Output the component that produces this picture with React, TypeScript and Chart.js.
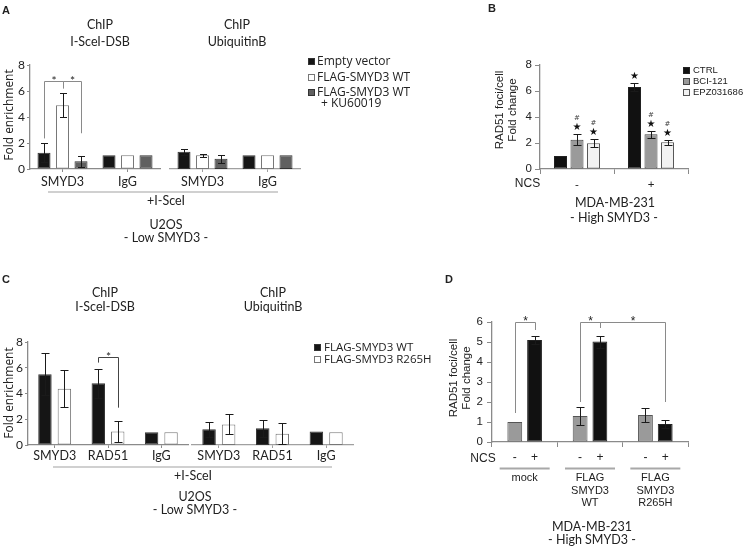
import React, { useEffect, useRef } from "react";
import { Chart, registerables } from "chart.js";
Chart.register(...registerables);

const W = 747;
const H = 548;
const AV = "Lato, 'Open Sans', sans-serif";
const OS = "'Open Sans', Lato, sans-serif";
const AR = "'Liberation Sans', Arial, sans-serif";

// ---------------- Panel A ----------------
const aCategories = ["SMYD3", "IgG"];
const aSeries = ["Empty vector", "FLAG-SMYD3 WT", "FLAG-SMYD3 WT"];
const aSeriesNote = "+ KU60019";
const aDsbEmpty = [1.25, 1.05];
const aDsbEmptyErr = [0.72, 0];
const aDsbWT = [4.9, 1.05];
const aDsbWTErr = [0.93, 0];
const aDsbKU = [0.6, 1.05];
const aDsbKUErr = [0.42, 0];
const aUbqEmpty = [1.32, 1.05];
const aUbqEmptyErr = [0.25, 0];
const aUbqWT = [1.05, 1.05];
const aUbqWTErr = [0.12, 0];
const aUbqKU = [0.78, 1.05];
const aUbqKUErr = [0.3, 0];
const aYTicks = [0, 2, 4, 6, 8];
// brackets: [fromDataset, fromIndex, toDataset, toIndex, top, fromBottom, toBottom]
const aBrackets = [
  [0, 0, 1, 0, 6.75, 2.35, 6.2],
  [1, 0, 2, 0, 6.75, 6.2, 2.75],
];

// ---------------- Panel B ----------------
const bCategories = ["-", "+"];
const bSeries = ["CTRL", "BCI-121", "EPZ031686"];
const bCtrl = [1.0, 6.3];
const bCtrlErr = [0, 0.33];
const bBci = [2.25, 2.68];
const bBciErr = [0.44, 0.28];
const bEpz = [1.98, 2.06];
const bEpzErr = [0.32, 0.2];
const bStars = [[false, true], [true, true], [true, true]];
const bHashes = [[false, false], [true, true], [true, true]];
const bYTicks = [0, 2, 4, 6, 8];

// ---------------- Panel C ----------------
const cCategories = ["SMYD3", "RAD51", "IgG"];
const cSeries = ["FLAG-SMYD3 WT", "FLAG-SMYD3 R265H"];
const cDsbWT = [5.5, 4.8, 1.0];
const cDsbWTErr = [1.63, 1.12, 0];
const cDsbR = [4.36, 1.05, 1.0];
const cDsbRErr = [1.43, 0.82, 0];
const cUbqWT = [1.22, 1.3, 1.05];
const cUbqWTErr = [0.6, 0.65, 0];
const cUbqR = [1.6, 0.88, 1.0];
const cUbqRErr = [0.78, 0.82, 0];
const cBrackets = [[0, 1, 1, 1, 6.85, 6.4, 2.9]];

// ---------------- Panel D ----------------
const dCategories = [["mock", "", ""], ["FLAG", "SMYD3", "WT"], ["FLAG", "SMYD3", "R265H"]];
const dNcs = ["-", "+"];
const dMinus = [1.0, 1.3, 1.35];
const dMinusErr = [0, 0.44, 0.33];
const dPlus = [5.1, 5.02, 0.9];
const dPlusErr = [0.2, 0.3, 0.2];
const dBrackets = [
  [0, 0, 1, 0, 6.0, 1.45, 5.6],
  [0, 1, 1, 1, 6.0, 2.0, 5.7],
  [1, 1, 1, 2, 6.0, 5.7, 2.0],
];

// ---------------- plugins ----------------
const errorBars = (cap: number) => ({
  id: "errorBars",
  afterDatasetsDraw(chart: any) {
    const ctx = chart.ctx;
    const ys = chart.scales.y;
    chart.data.datasets.forEach((ds: any, di: number) => {
      const meta = chart.getDatasetMeta(di);
      (ds.errors || []).forEach((e: number, i: number) => {
        if (!e) return;
        const el = meta.data[i];
        const v = ds.data[i];
        const x = Math.round(el.x) + 0.5;
        const y1 = Math.round(ys.getPixelForValue(v + e)) + 0.5;
        const y0 = Math.round(ys.getPixelForValue(v - e)) + 0.5;
        ctx.save();
        ctx.strokeStyle = "#1a1a1a";
        ctx.lineWidth = 1;
        ctx.beginPath();
        ctx.moveTo(x, y0);
        ctx.lineTo(x, y1);
        ctx.moveTo(x - cap / 2, y1);
        ctx.lineTo(x + cap / 2, y1);
        ctx.moveTo(x - cap / 2, y0);
        ctx.lineTo(x + cap / 2, y0);
        ctx.stroke();
        ctx.restore();
      });
    });
  },
});

const bracketPlugin = (list: number[][], color: string, font: string, dy: number) => ({
  id: "brackets",
  afterDatasetsDraw(chart: any) {
    const ctx = chart.ctx;
    const ys = chart.scales.y;
    list.forEach((b) => {
      const x1 = Math.round(chart.getDatasetMeta(b[0]).data[b[1]].x) + 0.5;
      const x2 = Math.round(chart.getDatasetMeta(b[2]).data[b[3]].x) + 0.5;
      const yt = Math.round(ys.getPixelForValue(b[4])) + 0.5;
      const y1 = ys.getPixelForValue(b[5]);
      const y2 = ys.getPixelForValue(b[6]);
      ctx.save();
      ctx.strokeStyle = color;
      ctx.lineWidth = 1;
      ctx.beginPath();
      ctx.moveTo(x1, y1);
      ctx.lineTo(x1, yt);
      ctx.lineTo(x2, yt);
      ctx.lineTo(x2, y2);
      ctx.stroke();
      ctx.fillStyle = "#222";
      ctx.font = font;
      ctx.textAlign = "center";
      ctx.textBaseline = "alphabetic";
      ctx.fillText("*", (x1 + x2) / 2, yt + dy);
      ctx.restore();
    });
  },
});

const markPlugin = (stars: boolean[][], hashes: boolean[][]) => ({
  id: "marks",
  afterDatasetsDraw(chart: any) {
    const ctx = chart.ctx;
    const ys = chart.scales.y;
    chart.data.datasets.forEach((ds: any, di: number) => {
      const meta = chart.getDatasetMeta(di);
      ds.data.forEach((v: number, i: number) => {
        const top = ys.getPixelForValue(v + (ds.errors[i] || 0));
        const x = meta.data[i].x;
        ctx.save();
        ctx.fillStyle = "#111";
        ctx.textAlign = "center";
        ctx.textBaseline = "middle";
        if (stars[di][i]) {
          ctx.font = "10px 'DejaVu Sans'";
          ctx.fillText("★", x, top - 6.5);
        }
        if (hashes[di][i]) {
          ctx.font = "7px 'DejaVu Sans'";
          ctx.fillStyle = "#444";
          ctx.fillText("#", x, top - 15.5);
        }
        ctx.restore();
      });
    });
  },
});

const ncsRow = (signs: string[], dyText: number, dyLine: number, lineW: number) => ({
  id: "ncsRow",
  afterDraw(chart: any) {
    const ctx = chart.ctx;
    const base = chart.scales.y.getPixelForValue(0);
    ctx.save();
    ctx.fillStyle = "#222";
    ctx.font = `12px ${AR}`;
    ctx.textAlign = "center";
    ctx.textBaseline = "middle";
    chart.data.datasets.forEach((ds: any, di: number) => {
      chart.getDatasetMeta(di).data.forEach((el: any) => {
        ctx.fillText(signs[di], el.x, base + dyText);
      });
    });
    ctx.strokeStyle = "#a8a8a8";
    ctx.lineWidth = 2;
    chart.data.labels.forEach((_l: any, i: number) => {
      const cx = chart.scales.x.getPixelForValue(i);
      ctx.beginPath();
      ctx.moveTo(cx - lineW / 2, base + dyLine);
      ctx.lineTo(cx + lineW / 2, base + dyLine);
      ctx.stroke();
    });
    ctx.restore();
  },
});

type Opt = {
  area: { l: number; t: number; r: number; b: number };
  labels: any[];
  datasets: any[];
  yMax: number;
  yStep: number;
  showY: boolean;
  xH: number;
  axisColor: string;
  xFont: any;
  yFont: any;
  yTickLen: number;
  yPad: number;
  xTickLen: number;
  xPad: number;
  xGridOffset: boolean;
  catPct: number;
  barPct: number;
  plugins: any[];
};

function makeBar(canvas: HTMLCanvasElement, o: Opt) {
  return new Chart(canvas, {
    type: "bar",
    data: {
      labels: o.labels,
      datasets: o.datasets.map((d) => ({
        ...d,
        categoryPercentage: o.catPct,
        barPercentage: o.barPct,
        borderWidth: 1,
        borderSkipped: false,
      })),
    },
    options: {
      responsive: false,
      animation: false,
      devicePixelRatio: 1,
      events: [],
      layout: {
        padding: {
          left: o.showY ? 0 : o.area.l,
          top: o.area.t,
          right: W - o.area.r,
          bottom: H - o.area.b - o.xH,
        },
      },
      plugins: { legend: { display: false }, tooltip: { enabled: false }, title: { display: false } },
      scales: {
        x: {
          offset: true,
          border: { display: true, color: o.axisColor, width: 1.3 },
          grid: {
            display: true,
            drawOnChartArea: false,
            drawTicks: true,
            tickLength: o.xTickLen,
            offset: o.xGridOffset,
            color: o.axisColor,
          },
          ticks: { font: o.xFont, color: "#222", padding: o.xPad, maxRotation: 0, autoSkip: false },
          afterFit: (s: any) => {
            s.height = o.xH;
          },
        },
        y: {
          display: o.showY,
          min: 0,
          max: o.yMax,
          border: { display: true, color: o.axisColor, width: 1.3 },
          grid: { drawOnChartArea: false, drawTicks: true, tickLength: o.yTickLen, color: o.axisColor },
          ticks: { stepSize: o.yStep, font: o.yFont, color: "#222", padding: o.yPad },
          afterFit: o.showY
            ? (s: any) => {
                s.width = o.area.l;
              }
            : undefined,
        },
      },
    } as any,
    plugins: o.plugins,
  });
}

const T = (p: {
  x: number;
  y: number;
  s: string;
  size?: number;
  fam?: string;
  bold?: boolean;
  rot?: number;
  align?: "left" | "center";
  color?: string;
}) => {
  const tx = p.align === "left" ? "0" : "-50%";
  return (
    <div
      style={{
        position: "absolute",
        left: p.x,
        top: p.y,
        transform: `translate(${tx},-50%)${p.rot ? ` rotate(${p.rot}deg)` : ""}`,
        fontSize: p.size ?? 12.5,
        fontFamily: p.fam ?? AV,
        fontWeight: p.bold ? 700 : 400,
        color: p.color ?? "#222",
        whiteSpace: "nowrap",
        lineHeight: 1,
      }}
    >
      {p.s}
    </div>
  );
};

const Sq = (p: { x: number; y: number; fill: string; border: string; size?: number }) => (
  <div
    style={{
      position: "absolute",
      left: p.x,
      top: p.y - (p.size ?? 7) / 2,
      width: p.size ?? 7,
      height: p.size ?? 7,
      boxSizing: "border-box",
      background: p.fill,
      border: `1px solid ${p.border}`,
    }}
  />
);

const Line = (p: { x1: number; x2: number; y: number; color?: string; w?: number }) => (
  <div
    style={{
      position: "absolute",
      left: p.x1,
      top: p.y - (p.w ?? 1.5) / 2,
      width: p.x2 - p.x1,
      height: p.w ?? 1.5,
      background: p.color ?? "#d0d0d0",
    }}
  />
);

const A_COL = [
  { bg: "#151515", bd: "#333" },
  { bg: "#ffffff", bd: "#777" },
  { bg: "#606060", bd: "#333" },
];
const B_COL = [
  { bg: "#111111", bd: "#222" },
  { bg: "#9a9a9a", bd: "#444" },
  { bg: "#f2f2f2", bd: "#555" },
];
const C_COL = [
  { bg: "#151515", bd: "#333" },
  { bg: "#ffffff", bd: "#777" },
];
const D_COL = [
  { bg: "#9a9a9a", bd: "#555" },
  { bg: "#111111", bd: "#222" },
];

export default function App() {
  const r1 = useRef<HTMLCanvasElement>(null);
  const r2 = useRef<HTMLCanvasElement>(null);
  const r3 = useRef<HTMLCanvasElement>(null);
  const r4 = useRef<HTMLCanvasElement>(null);
  const r5 = useRef<HTMLCanvasElement>(null);
  const r6 = useRef<HTMLCanvasElement>(null);

  useEffect(() => {
    const avTick = { family: AV, size: 12.5 };
    const avY = { family: AV, size: 12 };
    const arTick = { family: AR, size: 11.5 };
    const ds = (vals: number[], errs: number[], col: { bg: string; bd: string }) => ({
      data: vals,
      errors: errs,
      backgroundColor: col.bg,
      borderColor: col.bd,
    });
    const charts: Chart[] = [];
    // A left
    charts.push(
      makeBar(r1.current!, {
        area: { l: 30, t: 65, r: 160, b: 169 },
        labels: aCategories,
        datasets: [
          ds(aDsbEmpty, aDsbEmptyErr, A_COL[0]),
          ds(aDsbWT, aDsbWTErr, A_COL[1]),
          ds(aDsbKU, aDsbKUErr, A_COL[2]),
        ],
        yMax: aYTicks[aYTicks.length - 1],
        yStep: 2,
        showY: true,
        xH: 30,
        axisColor: "#8a8a8a",
        xFont: avTick,
        yFont: avY,
        yTickLen: 3,
        yPad: 2,
        xTickLen: 3,
        xPad: 2,
        xGridOffset: false,
        catPct: 0.854,
        barPct: 0.703,
        plugins: [errorBars(7), bracketPlugin(aBrackets, "#8a8a8a", `12px ${AV}`, 3)],
      })
    );
    // A right
    charts.push(
      makeBar(r2.current!, {
        area: { l: 170, t: 65, r: 300, b: 169 },
        labels: aCategories,
        datasets: [
          ds(aUbqEmpty, aUbqEmptyErr, A_COL[0]),
          ds(aUbqWT, aUbqWTErr, A_COL[1]),
          ds(aUbqKU, aUbqKUErr, A_COL[2]),
        ],
        yMax: 8,
        yStep: 2,
        showY: false,
        xH: 30,
        axisColor: "#a0a0a0",
        xFont: avTick,
        yFont: avY,
        yTickLen: 3,
        yPad: 2,
        xTickLen: 3,
        xPad: 2,
        xGridOffset: false,
        catPct: 0.854,
        barPct: 0.703,
        plugins: [errorBars(7)],
      })
    );
    // B
    charts.push(
      makeBar(r3.current!, {
        area: { l: 540, t: 65, r: 688, b: 169 },
        labels: bCategories,
        datasets: [ds(bCtrl, bCtrlErr, B_COL[0]), ds(bBci, bBciErr, B_COL[1]), ds(bEpz, bEpzErr, B_COL[2])],
        yMax: bYTicks[bYTicks.length - 1],
        yStep: 2,
        showY: true,
        xH: 30,
        axisColor: "#8a8a8a",
        xFont: arTick,
        yFont: { family: AR, size: 11.5 },
        yTickLen: 5,
        yPad: 3,
        xTickLen: 5,
        xPad: 4,
        xGridOffset: true,
        catPct: 0.669,
        barPct: 0.79,
        plugins: [errorBars(8), markPlugin(bStars, bHashes)],
      })
    );
    // C left
    charts.push(
      makeBar(r4.current!, {
        area: { l: 28, t: 342, r: 188, b: 445 },
        labels: cCategories,
        datasets: [ds(cDsbWT, cDsbWTErr, C_COL[0]), ds(cDsbR, cDsbRErr, C_COL[1])],
        yMax: 8,
        yStep: 2,
        showY: true,
        xH: 30,
        axisColor: "#8a8a8a",
        xFont: avTick,
        yFont: avY,
        yTickLen: 3,
        yPad: 2,
        xTickLen: 3,
        xPad: 0,
        xGridOffset: false,
        catPct: 0.729,
        barPct: 0.69,
        plugins: [errorBars(8), bracketPlugin(cBrackets, "#444", `12px ${AV}`, 3)],
      })
    );
    // C right
    charts.push(
      makeBar(r5.current!, {
        area: { l: 192, t: 342, r: 353, b: 445 },
        labels: cCategories,
        datasets: [ds(cUbqWT, cUbqWTErr, C_COL[0]), ds(cUbqR, cUbqRErr, C_COL[1])],
        yMax: 8,
        yStep: 2,
        showY: false,
        xH: 30,
        axisColor: "#a0a0a0",
        xFont: avTick,
        yFont: avY,
        yTickLen: 3,
        yPad: 2,
        xTickLen: 3,
        xPad: 0,
        xGridOffset: false,
        catPct: 0.729,
        barPct: 0.69,
        plugins: [errorBars(8)],
      })
    );
    // D
    charts.push(
      makeBar(r6.current!, {
        area: { l: 492, t: 322, r: 688, b: 442 },
        labels: dCategories,
        datasets: [ds(dMinus, dMinusErr, D_COL[0]), ds(dPlus, dPlusErr, D_COL[1])],
        yMax: 6,
        yStep: 1,
        showY: true,
        xH: 75,
        axisColor: "#8a8a8a",
        xFont: { family: AR, size: 11, lineHeight: 1.12 },
        yFont: { family: AR, size: 11.5 },
        yTickLen: 5,
        yPad: 4,
        xTickLen: 5,
        xPad: 25,
        xGridOffset: true,
        catPct: 0.605,
        barPct: 0.75,
        plugins: [errorBars(8), bracketPlugin(dBrackets, "#8a8a8a", `12px ${AR}`, 2), ncsRow(dNcs, 16, 26.5, 50)],
      })
    );
    return () => charts.forEach((c) => c.destroy());
  }, []);

  const cv = (r: any) => (
    <canvas
      ref={r}
      width={W}
      height={H}
      style={{ position: "absolute", left: 0, top: 0, width: W, height: H }}
    />
  );

  return (
    <div
      style={{
        position: "absolute",
        left: 0,
        top: 0,
        width: W,
        height: H,
        overflow: "hidden",
        background: "#fff",
      }}
    >
      {cv(r1)}
      {cv(r2)}
      {cv(r3)}
      {cv(r4)}
      {cv(r5)}
      {cv(r6)}

      {/* Panel A */}
      <T x={2} y={10} s="A" size={11} fam={AR} bold align="left" />
      <T x={100} y={25} s="ChIP" />
      <T x={100} y={42} s="I-SceI-DSB" />
      <T x={237} y={25} s="ChIP" />
      <T x={237} y={42} s="UbiquitinB" />
      <T x={8.5} y={115} s="Fold enrichment" size={12} fam={OS} rot={-90} />
      <Sq x={308} y={61} fill={A_COL[0].bg} border={A_COL[0].bd} />
      <Sq x={308} y={77} fill={A_COL[1].bg} border={A_COL[1].bd} />
      <Sq x={308} y={92} fill={A_COL[2].bg} border={A_COL[2].bd} />
      <T x={317} y={61} s={aSeries[0]} size={12} fam={OS} align="left" />
      <T x={317} y={77} s={aSeries[1]} size={12} fam={OS} align="left" />
      <T x={317} y={92} s={aSeries[2]} size={12} fam={OS} align="left" />
      <T x={321} y={103} s={aSeriesNote} size={12} fam={OS} align="left" />
      <Line x1={48} x2={278} y={192} />
      <T x={166} y={201} s="+I-SceI" />
      <T x={166} y={225} s="U2OS" />
      <T x={166} y={238} s="- Low SMYD3 -" />

      {/* Panel B */}
      <T x={488} y={8} s="B" size={11} fam={AR} bold align="left" />
      <T x={500} y={110} s="RAD51 foci/cell" size={11.5} fam={AR} rot={-90} />
      <T x={513} y={110} s="Fold change" size={11.5} fam={AR} rot={-90} />
      <T x={527.5} y={183} s="NCS" size={12} fam={AR} />
      <Sq x={683} y={70} fill={B_COL[0].bg} border={B_COL[0].bd} />
      <Sq x={683} y={81} fill={B_COL[1].bg} border={B_COL[1].bd} />
      <Sq x={683} y={92} fill={B_COL[2].bg} border={B_COL[2].bd} />
      <T x={693} y={70} s={bSeries[0]} size={9.5} fam={AR} align="left" />
      <T x={693} y={81} s={bSeries[1]} size={9.5} fam={AR} align="left" />
      <T x={693} y={92} s={bSeries[2]} size={9.5} fam={AR} align="left" />
      <T x={615} y={203} s="MDA-MB-231" />
      <T x={614} y={218} s="- High SMYD3 -" />

      {/* Panel C */}
      <T x={2} y={279} s="C" size={11} fam={AR} bold align="left" />
      <T x={105} y={293} s="ChIP" />
      <T x={105} y={307} s="I-SceI-DSB" />
      <T x={273} y={293} s="ChIP" />
      <T x={273} y={307} s="UbiquitinB" />
      <T x={8.5} y={393} s="Fold enrichment" size={12} fam={OS} rot={-90} />
      <Sq x={314} y={347} fill={C_COL[0].bg} border={C_COL[0].bd} />
      <Sq x={314} y={359} fill={C_COL[1].bg} border={C_COL[1].bd} />
      <T x={324} y={347} s={cSeries[0]} size={11.5} fam={OS} align="left" />
      <T x={324} y={359} s={cSeries[1]} size={11.5} fam={OS} align="left" />
      <Line x1={53} x2={332} y={467} />
      <T x={193} y={476} s="+I-SceI" />
      <T x={195} y={497} s="U2OS" />
      <T x={195} y={510} s="- Low SMYD3 -" />

      {/* Panel D */}
      <T x={445} y={279} s="D" size={11} fam={AR} bold align="left" />
      <T x={454} y={378} s="RAD51 foci/cell" size={11.5} fam={AR} rot={-90} />
      <T x={467} y={378} s="Fold change" size={11.5} fam={AR} rot={-90} />
      <T x={483} y={458} s="NCS" size={12} fam={AR} />
      <T x={592} y={527} s="MDA-MB-231" />
      <T x={592} y={540} s="- High SMYD3 -" />
    </div>
  );
}
